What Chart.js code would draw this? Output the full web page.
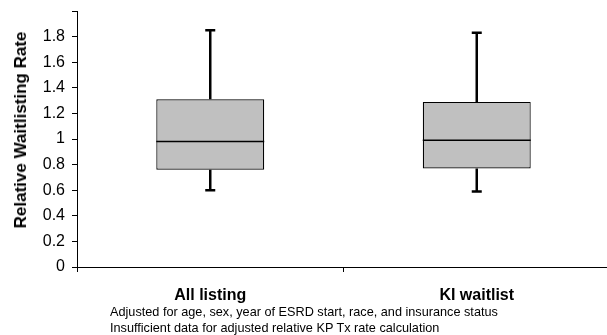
<!DOCTYPE html>
<html>
<head>
<meta charset="utf-8">
<script src="https://cdn.jsdelivr.net/npm/chart.js@4.4.1/dist/chart.umd.min.js"></script>
<style>
  html, body { margin: 0; padding: 0; background: #fff; }
  #wrap { position: relative; width: 607px; height: 335px; overflow: hidden; }
  #c { position: absolute; left: 0; top: 0; }
  .note { position: absolute; left: 110px; font: 12.7px "Liberation Sans", Arial, sans-serif; color: #000; white-space: nowrap; line-height: 15px; }
  #ytitle { position: absolute; left: 21px; top: 130px; transform: translate(-50%, -50%) rotate(-90deg);
            font: bold 17px "Liberation Sans", Arial, sans-serif; color: #000; white-space: nowrap; }
</style>
</head>
<body>
<div id="wrap">
  <canvas id="c" width="610" height="335"></canvas>
  <div id="ytitle">Relative Waitlisting Rate</div>
  <div class="note" style="top:305px">Adjusted for age, sex, year of ESRD start, race, and insurance status</div>
  <div class="note" style="top:321px">Insufficient data for adjusted relative KP Tx rate calculation</div>
</div>
<script>
// Groups and five-number summaries
const categories = ['All listing', 'KI waitlist'];
const whiskerLow  = [0.60, 0.59];
const quartile1   = [0.76, 0.77];
const medians     = [0.98, 0.99];
const quartile3   = [1.31, 1.29];
const whiskerHigh = [1.85, 1.83];
const yTicks = [0, 0.2, 0.4, 0.6, 0.8, 1, 1.2, 1.4, 1.6, 1.8, 2];

const FONT = '"Liberation Sans", Arial, sans-serif';

// Median lines and whiskers drawn from the scales after the boxes
const boxExtras = {
  id: 'boxExtras',
  afterDatasetsDraw(chart) {
    const ctx = chart.ctx;
    const y = chart.scales.y;
    const meta = chart.getDatasetMeta(0);
    ctx.save();
    ctx.strokeStyle = '#000';
    meta.data.forEach((bar, i) => {
      const half = bar.width / 2;
      const cx = bar.x;
      // median
      ctx.lineWidth = 1.5;
      ctx.beginPath();
      const ym = y.getPixelForValue(medians[i]);
      ctx.moveTo(cx - half, ym);
      ctx.lineTo(cx + half, ym);
      ctx.stroke();
      // whiskers
      ctx.lineWidth = 2.5;
      const yq3 = y.getPixelForValue(quartile3[i]);
      const yq1 = y.getPixelForValue(quartile1[i]);
      const yh = y.getPixelForValue(whiskerHigh[i]);
      const yl = y.getPixelForValue(whiskerLow[i]);
      ctx.beginPath();
      ctx.moveTo(cx, yq3); ctx.lineTo(cx, yh);
      ctx.moveTo(cx - 5, yh); ctx.lineTo(cx + 5, yh);
      ctx.moveTo(cx, yq1); ctx.lineTo(cx, yl);
      ctx.moveTo(cx - 5, yl); ctx.lineTo(cx + 5, yl);
      ctx.stroke();
    });
    ctx.restore();
  }
};

new Chart(document.getElementById('c'), {
  type: 'bar',
  data: {
    labels: categories,
    datasets: [{
      data: categories.map((_, i) => [quartile1[i], quartile3[i]]),
      backgroundColor: '#c0c0c0',
      borderColor: '#000',
      borderWidth: 1.2,
      borderSkipped: false,
      categoryPercentage: 1,
      barPercentage: 0.405
    }]
  },
  options: {
    responsive: false,
    animation: false,
    events: [],
    layout: { padding: { top: 11, left: 0, right: 0, bottom: 0 } },
    plugins: { legend: { display: false }, tooltip: { enabled: false } },
    scales: {
      x: {
        offset: true,
        grid: { offset: true, drawOnChartArea: false, tickLength: 5, color: '#000', lineWidth: 1 },
        border: { color: '#000', width: 1 },
        ticks: { color: '#000', font: { family: FONT, size: 16, weight: 'bold' }, padding: 14, maxRotation: 0 },
        afterFit(s) { s.height = 68; s.paddingLeft = 0; s.paddingRight = 0; }
      },
      y: {
        min: 0, max: 2,
        afterBuildTicks(s) { s.ticks = yTicks.map(v => ({ value: v })); },
        grid: { drawOnChartArea: false, tickLength: 5, color: '#000', lineWidth: 1 },
        border: { color: '#000', width: 1 },
        ticks: {
          color: '#000', font: { family: FONT, size: 16 }, padding: 7,
          callback: v => (v >= 2 ? '' : String(Number(v.toFixed(1))))
        },
        afterFit(s) { s.width = 77; s.paddingTop = 0; s.paddingBottom = 0; }
      }
    }
  },
  plugins: [boxExtras]
});
</script>
</body>
</html>
